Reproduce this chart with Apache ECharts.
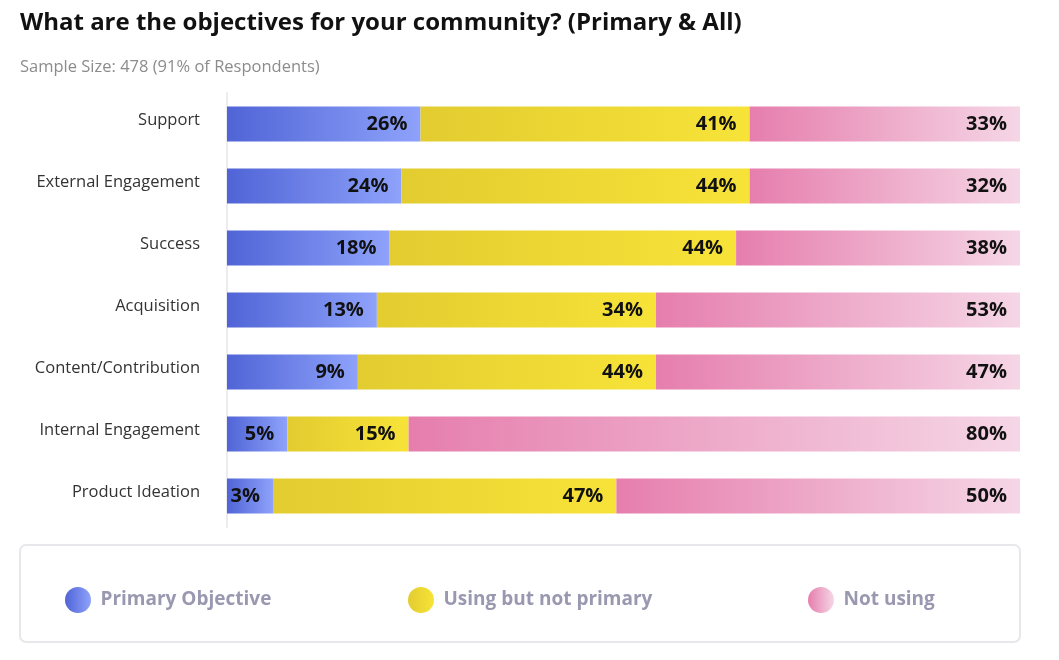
<!DOCTYPE html>
<html><head><meta charset="utf-8">
<script src="https://cdn.jsdelivr.net/npm/echarts@6/dist/echarts.min.js"></script>
<style>html,body{margin:0;padding:0;background:#fff}#c{width:1059px;height:660px}</style>
</head><body><div id="c"></div>
<script>
var categories = ['Support','External Engagement','Success','Acquisition','Content/Contribution','Internal Engagement','Product Ideation'];
// percentages printed on the bars
var primaryLabels = [26,24,18,13,9,5,3];
var usingLabels = [41,44,44,34,44,15,47];
var notUsingLabels = [33,32,38,53,47,80,50];
// bar lengths as drawn in the picture (share of full bar, %)
var primary = [24.4,22.0,20.5,18.9,16.5,7.6,5.8];
var usingNotPrimary = [41.5,43.9,43.7,35.2,37.6,15.3,43.3];
var notUsing = [34.1,34.1,35.8,45.9,45.9,77.1,50.9];
var seriesNames = ['Primary Objective','Using but not primary','Not using'];

function grad(a,b){return new echarts.graphic.LinearGradient(0,0,1,0,[{offset:0,color:a},{offset:1,color:b}]);}
var colors = [grad('#5064d6','#8ea2fb'), grad('#e2cc30','#f7e338'), grad('#e67ead','#f5d6e6')];
var FONT = '"Open Sans", "Noto Sans", sans-serif';
var datasets = [primary, usingNotPrimary, notUsing];
var labelSets = [primaryLabels, usingLabels, notUsingLabels];

var chart = echarts.init(document.getElementById('c'));
var series = seriesNames.map(function(n,i){
  return {
    name:n, type:'bar', stack:'all', barWidth:35, data:datasets[i],
    itemStyle:{color:colors[i]},
    label:{show:true, position:'insideRight', distance:13,
      formatter:function(p){return labelSets[i][p.dataIndex] + '%';},
      fontFamily:FONT, fontWeight:'bold', fontSize:20, color:'#111', padding:[4,0,0,0]},
    emphasis:{disabled:true}
  };
});
var legendX = [60, 403, 803];
var legends = seriesNames.map(function(n,i){
  return {data:[n], left:legendX[i], top:582, icon:'circle', itemWidth:27, itemHeight:26, itemGap:0,
    selectedMode:false, textStyle:{fontFamily:FONT, fontSize:19, fontWeight:'bold', color:'#9a98b0', padding:[0,0,0,4]}};
});
chart.setOption({
  animation:false,
  title:[
    {text:'What are the objectives for your community? (Primary & All)', left:20, top:11, padding:0, textStyle:{fontFamily:FONT, fontSize:24, fontWeight:'bold', color:'#111'}},
    {text:'Sample Size: 478 (91% of Respondents)', left:20, top:59, padding:0, textStyle:{fontFamily:FONT, fontSize:16.5, fontWeight:'normal', color:'#8c8c8c'}}
  ],
  graphic:[{type:'rect', shape:{x:20, y:545, width:1000, height:97, r:6}, style:{fill:'#fff', stroke:'#e8e8ec', lineWidth:2}, z:-1}],
  legend:legends,
  grid:{left:227, right:39, top:93, height:434},
  xAxis:{type:'value', min:0, max:100, show:false},
  yAxis:{type:'category', data:categories, inverse:true,
    axisLine:{show:true, lineStyle:{color:'#ececf0', width:2}}, axisTick:{show:false},
    axisLabel:{fontFamily:FONT, fontSize:16.5, color:'#333', margin:27, verticalAlign:'bottom', lineHeight:8, padding:[0,0,0,0]}},
  series:series
});
</script></body></html>
